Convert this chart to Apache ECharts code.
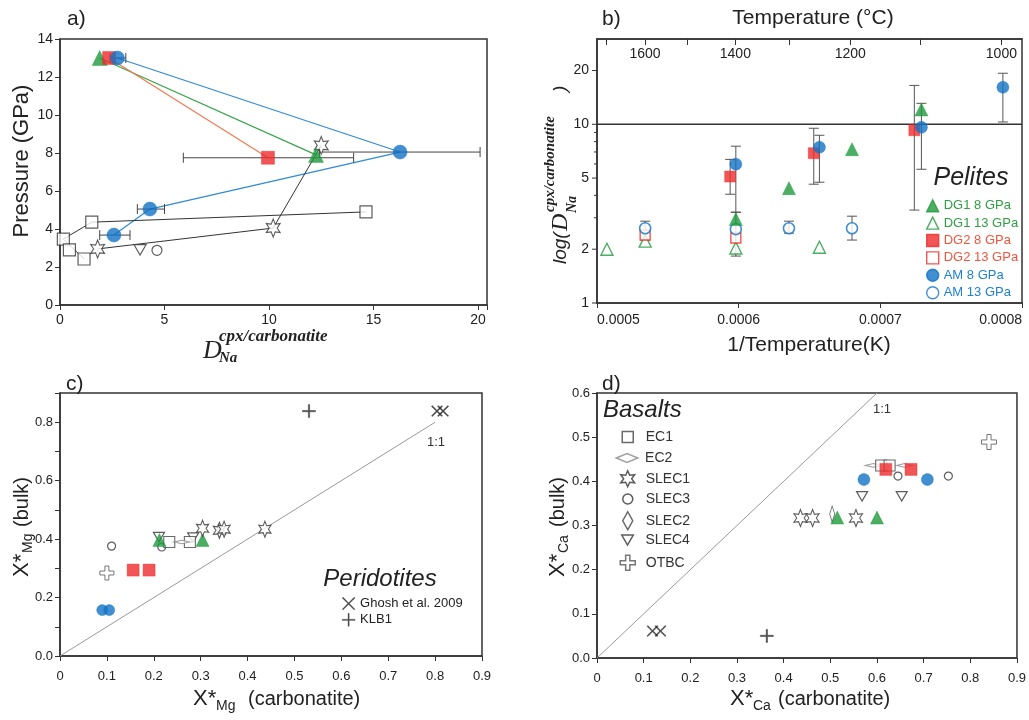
<!DOCTYPE html>
<html><head><meta charset="utf-8">
<script src="https://cdn.jsdelivr.net/npm/echarts@6/dist/echarts.min.js"></script>
<style>html,body{margin:0;padding:0;background:#fff}#c{width:1029px;height:720px}</style>
</head><body><div id="c"></div>
<script>
// ---------- Panel a: Pressure vs D_Na ----------
const aBlueLine = [[2.75,13],[16.27,8.05],[4.3,5.05],[2.58,3.68]];
const aGreenLine = [[1.9,13],[12.25,7.9]];
const aRedLine = [[2.35,13],[9.95,7.75]];
const aStarLine = [[12.5,8.4],[10.2,4.05],[1.8,2.95]];
const aSquareLine = [[14.64,4.9],[1.52,4.36],[0.16,3.47],[1.15,2.42]];
const aSquares = [[14.64,4.9],[1.52,4.36],[0.16,3.47],[0.45,2.9],[1.15,2.42]];
const aStars = [[12.5,8.4],[10.2,4.05],[1.8,2.95]];
const aGreen = [[1.9,13],[12.25,7.9]];
const aRed = [[2.35,13],[9.95,7.75]];
const aBlue = [[2.75,13],[16.27,8.05],[4.3,5.05],[2.58,3.68]];
const aDownTri = [[3.83,2.9]];
const aCircle = [[4.64,2.88]];
// [x, y, low, high]
const aErr = [[2.75,13,2.4,3.15],[9.95,7.75,5.9,14.05],[16.27,8.05,12.42,20.1],[4.3,5.05,3.7,5.0],[2.58,3.68,1.9,3.35]];

// ---------- Panel b: log D vs 1/T ----------
const bDG1_8 = [[0.000598,2.95],[0.0006355,4.39],[0.00068,7.25],[0.000729,12.1]];
const bDG1_13 = [[0.000507,2.0],[0.000534,2.22],[0.000598,2.03],[0.000657,2.05]];
const bDG2_8 = [[0.000594,5.1],[0.000653,6.89],[0.000724,9.26]];
const bDG2_13 = [[0.000534,2.4],[0.000598,2.31]];
const bAM_8 = [[0.000598,5.98],[0.000657,7.44],[0.000729,9.62],[0.0007865,16.1]];
const bAM_13 = [[0.000534,2.62],[0.000598,2.59],[0.0006355,2.62],[0.00068,2.62]];
// [x, low, high]
const bErr = [[0.000534,2.25,2.87],[0.000594,4.06,6.36],[0.000598,3.22,7.54],[0.000598,1.83,3.22],
  [0.0006355,2.46,2.87],[0.000653,4.62,9.5],[0.000657,4.74,8.68],[0.00068,2.25,3.06],
  [0.000724,3.31,16.5],[0.000729,5.6,13.1],[0.0007865,10.3,19.3]];
const bRefLine = [[0.0005,10],[0.0008,10]];
const bLogMajor = [1,2,5,10,20];
const bLogMinor = [3,4,6,7,8,9];
const bTopTicksC = [1700,1600,1500,1400,1300,1200,1100,1000];
const bTopLabelsC = [1600,1400,1200,1000];

// ---------- Panel c: X*Mg ----------
const cBlue = [[0.09,0.157],[0.105,0.157]];
const cOTBC = [[0.1,0.284]];
const cCircle = [[0.11,0.376],[0.217,0.373]];
const cRed = [[0.156,0.294],[0.19,0.294]];
const cGreen = [[0.212,0.397],[0.304,0.397]];
const cDownTri = [[0.211,0.407],[0.284,0.405]];
const cSquare = [[0.233,0.39],[0.277,0.39]];
const cWideDiamond = [[0.26,0.39]];
const cStar = [[0.304,0.437],[0.34,0.43],[0.35,0.434],[0.437,0.434]];
const cTallDiamond = [[0.34,0.43]];
const cGhosh = [[0.804,0.838],[0.817,0.838]];
const cKLB1 = [[0.531,0.838]];
const cOneToOne = [[0,0],[0.8,0.8]];

// ---------- Panel d: X*Ca ----------
const dGhosh = [[0.119,0.061],[0.136,0.061]];
const dKLB1 = [[0.364,0.05]];
const dStar = [[0.436,0.317],[0.462,0.317],[0.555,0.317]];
const dTallDiamond = [[0.504,0.326]];
const dGreen = [[0.515,0.318],[0.6,0.318]];
const dDownTri = [[0.568,0.366],[0.653,0.366]];
const dBlue = [[0.572,0.404],[0.708,0.404]];
const dCircle = [[0.645,0.412],[0.753,0.412]];
const dRed = [[0.619,0.427],[0.673,0.427]];
const dWideDiamond = [[0.592,0.436],[0.659,0.436]];
const dSquare = [[0.609,0.436],[0.627,0.436]];
const dOTBC = [[0.84,0.489]];
const dOneToOne = [[0,0],[0.6,0.6]];

// ---------- styles ----------
const FONT = '"Liberation Sans", Arial, sans-serif';
const SERIF = '"Liberation Serif", "DejaVu Serif", serif';
const GREEN = '#1f9a3c', RED = '#ee2a2a', BLUE = '#1273c6';
const GREEN_T = '#2ea043', RED_T = '#f2553a', BLUE_T = '#1f80d6';
const AX = '#333';
const STAR = 'path://M10 0L12.5 5.67L18.66 5L15 10L18.66 15L12.5 14.33L10 20L7.5 14.33L1.34 15L5 10L1.34 5L7.5 5.67Z';
const PLUS = 'path://M4.5 0H5.5V4.5H10V5.5H5.5V10H4.5V5.5H0V4.5H4.5Z';
const XMARK = 'path://M0 0.7L0.7 0L5 4.3L9.3 0L10 0.7L5.7 5L10 9.3L9.3 10L5 5.7L0.7 10L0 9.3L4.3 5Z';
const OCROSS = 'path://M3.6 0H6.4V3.6H10V6.4H6.4V10H3.6V6.4H0V3.6H3.6Z';
const WDIA = 'path://M0 5L12 0L24 5L12 10Z';
const TDIA = 'path://M5 0L10 9L5 18L0 9Z';
const DTRI = 'path://M0 0L12 0L6 10.4Z';

function filled(color){ return {color:color, borderColor:color, borderWidth:0.5}; }
function open(color, w){ return {color:'#fff', borderColor:color, borderWidth:w||1.3}; }

function sc(name, xi, data, symbol, size, style, extra){
  return Object.assign({type:'scatter', name:name, xAxisIndex:xi, yAxisIndex:xi, data:data,
    symbol:symbol, symbolSize:size, symbolKeepAspect:true, itemStyle:style, z:5, silent:true}, extra||{});
}
function ln(xi, data, color, w){
  return {type:'line', xAxisIndex:xi, yAxisIndex:xi, data:data, symbol:'none', silent:true,
    lineStyle:{color:color, width:w||1.2}, z:2};
}
function hErr(params, api){
  const y = api.value(1), p1 = api.coord([api.value(2), y]), p2 = api.coord([api.value(3), y]);
  const c = 5, st = {stroke:'#444', lineWidth:1};
  return {type:'group', children:[
    {type:'line', shape:{x1:p1[0],y1:p1[1],x2:p2[0],y2:p2[1]}, style:st},
    {type:'line', shape:{x1:p1[0],y1:p1[1]-c,x2:p1[0],y2:p1[1]+c}, style:st},
    {type:'line', shape:{x1:p2[0],y1:p2[1]-c,x2:p2[0],y2:p2[1]+c}, style:st}]};
}
function vErr(params, api){
  const x = api.value(0), p1 = api.coord([x, api.value(1)]), p2 = api.coord([x, api.value(2)]);
  const c = 5, st = {stroke:'#555', lineWidth:1};
  return {type:'group', children:[
    {type:'line', shape:{x1:p1[0],y1:p1[1],x2:p2[0],y2:p2[1]}, style:st},
    {type:'line', shape:{x1:p1[0]-c,y1:p1[1],x2:p1[0]+c,y2:p1[1]}, style:st},
    {type:'line', shape:{x1:p2[0]-c,y1:p2[1],x2:p2[0]+c,y2:p2[1]}, style:st}]};
}
const B_XMIN = 0.0005, B_XMAX = 0.0008;
function logTick(params, api){
  const v = api.value(1), major = api.value(2) === 1;
  const p = api.coord([B_XMIN, v]);
  const len = major ? 5 : 3;
  const ch = [{type:'line', shape:{x1:p[0]-len,y1:p[1],x2:p[0],y2:p[1]}, style:{stroke:AX, lineWidth:1}}];
  if (major) ch.push({type:'text', x:p[0]-8, y:p[1], style:{text:String(v), font:'14px '+FONT, fill:'#222', align:'right', verticalAlign:'middle'}});
  return {type:'group', children:ch};
}
const toInvK = c => 1/(c+273.15);

const baseAxis = (gi, o) => Object.assign({
  gridIndex:gi, type:'value', splitLine:{show:false},
  axisLine:{show:true, onZero:false, lineStyle:{color:AX, width:1.5}},
  axisTick:{show:true, length:5, lineStyle:{color:AX, width:1}},
  axisLabel:{color:'#222', fontFamily:FONT, fontSize:14}
}, o);

const series = [
  // panel a
  ln(0, aBlueLine, '#2f8ad8'), ln(0, aGreenLine, '#3aa64a'), ln(0, aRedLine, '#f4784f'),
  ln(0, aStarLine, '#333', 1), ln(0, aSquareLine, '#333', 1),
  {type:'custom', xAxisIndex:0, yAxisIndex:0, data:aErr, renderItem:hErr, encode:{x:[0,2,3], y:1}, z:3, silent:true},
  sc('a-sq', 0, aSquares, 'rect', 12, open('#333',1.2)),
  sc('a-star', 0, aStars, STAR, [16,18], open('#333',1.1)),
  sc('a-dt', 0, aDownTri, DTRI, 12, open('#333',1.2)),
  sc('a-ci', 0, aCircle, 'circle', 10, open('#333',1.2)),
  sc('a-g', 0, aGreen, 'triangle', 15, filled(GREEN)),
  sc('a-r', 0, aRed, 'rect', 13, filled(RED)),
  sc('a-b', 0, aBlue, 'circle', 14, filled(BLUE), {z:6}),
  // panel b
  {type:'line', xAxisIndex:1, yAxisIndex:1, data:bRefLine, symbol:'none', silent:true, lineStyle:{color:'#333', width:1.5}, z:2},
  {type:'custom', xAxisIndex:1, yAxisIndex:1, data:bErr, renderItem:vErr, encode:{x:0, y:[1,2]}, z:3, silent:true},
  {type:'custom', xAxisIndex:1, yAxisIndex:1, renderItem:logTick, encode:{x:0, y:1}, clip:false, silent:true, z:4,
    data: bLogMajor.map(v=>[B_XMIN, v, 1]).concat(bLogMinor.map(v=>[B_XMIN, v, 0]))},
  sc('DG1 13 GPa', 1, bDG1_13, 'triangle', 12, open(GREEN,1.4)),
  sc('DG2 13 GPa', 1, bDG2_13, 'rect', 10, open(RED,1.4)),
  sc('AM 13 GPa', 1, bAM_13, 'circle', 11, open(BLUE,1.6)),
  sc('DG1 8 GPa', 1, bDG1_8, 'triangle', 13, filled(GREEN)),
  sc('DG2 8 GPa', 1, bDG2_8, 'rect', 11, filled(RED)),
  sc('AM 8 GPa', 1, bAM_8, 'circle', 12, filled(BLUE)),
  // panel c
  ln(2, cOneToOne, '#999', 1),
  sc('c-blue', 2, cBlue, 'circle', 11, filled(BLUE)),
  sc('c-otbc', 2, cOTBC, OCROSS, 14, open('#555',1)),
  sc('c-ci', 2, cCircle, 'circle', 8, open('#333',1.2)),
  sc('c-red', 2, cRed, 'rect', 12, filled(RED)),
  sc('c-dt', 2, cDownTri, DTRI, 11, open('#333',1.2)),
  sc('c-sq', 2, cSquare, 'rect', 11, open('#444',1.1)),
  sc('c-wd', 2, cWideDiamond, WDIA, [16,8], open('#888',1.3)),
  sc('c-green', 2, cGreen, 'triangle', 13, filled(GREEN)),
  sc('c-td', 2, cTallDiamond, TDIA, [8,15], open('#444',1)),
  sc('c-star', 2, cStar, STAR, [14,16], open('#333',1.1)),
  sc('Ghosh et al. 2009', 2, cGhosh, XMARK, 11, filled('#222')),
  sc('KLB1', 2, cKLB1, PLUS, 13, filled('#222')),
  // panel d
  ln(3, dOneToOne, '#999', 1),
  sc('d-ghosh', 3, dGhosh, XMARK, 11, filled('#222')),
  sc('d-klb1', 3, dKLB1, PLUS, 13, filled('#222')),
  sc('SLEC2', 3, dTallDiamond, TDIA, [9,16], open('#444',1)),
  sc('SLEC1', 3, dStar, STAR, [15,17], open('#333',1.1)),
  sc('d-green', 3, dGreen, 'triangle', 13, filled(GREEN)),
  sc('SLEC4', 3, dDownTri, DTRI, 11, open('#333',1.2)),
  sc('d-blue', 3, dBlue, 'circle', 12, filled(BLUE)),
  sc('SLEC3', 3, dCircle, 'circle', 8, open('#333',1.2)),
  sc('EC2', 3, dWideDiamond, WDIA, [16,9], open('#888',1.3)),
  sc('EC1', 3, dSquare, 'rect', 11, open('#444',1.1)),
  sc('d-red', 3, dRed, 'rect', 12, filled(RED)),
  sc('OTBC', 3, dOTBC, OCROSS, 15, open('#555',1))
];

// legends: [name, icon width, icon height, row centre y]
const bLegendNames = [['DG1 8 GPa',GREEN_T],['DG1 13 GPa',GREEN_T],['DG2 8 GPa',RED_T],['DG2 13 GPa',RED_T],['AM 8 GPa',BLUE_T],['AM 13 GPa',BLUE_T]];
const dLegendItems = [['EC1',11,11,437],['EC2',23,9,458],['SLEC1',14,16,478],['SLEC3',10,10,499],['SLEC2',10,18,520],['SLEC4',12,10,540],['OTBC',15,15,562]];
const legends = [
  {left:926, top:199, padding:0, orient:'vertical', itemWidth:12, itemHeight:12, itemGap:4, selectedMode:false, symbolKeepAspect:true,
   textStyle:{fontSize:13, fontFamily:FONT}, itemStyle:{borderWidth:1.4},
   data: bLegendNames.map(([n,c])=>({name:n, textStyle:{color:c}}))},
  {left:342, top:597, padding:0, orient:'vertical', itemWidth:13, itemHeight:13, itemGap:3, selectedMode:false, symbolKeepAspect:true,
   textStyle:{fontSize:13, fontFamily:FONT, color:'#222'}, itemStyle:{borderWidth:0.2}, data:['Ghosh et al. 2009','KLB1']}
].concat(dLegendItems.map(([n,w,h,yc])=>({left:627-w/2, top:yc-Math.max(h,14)/2, padding:0, itemWidth:w, itemHeight:h,
   selectedMode:false, symbolKeepAspect:true,
   textStyle:{fontSize:14, fontFamily:FONT, color:'#333', padding:[0,0,0,(645-(627+w/2))-5]},
   itemStyle:{borderWidth:1.5}, data:[n]})));

// text helpers
function T(text, x, y, font, o){ o=o||{}; return {type:'text', x:x, y:y, z:100, silent:true,
  style:{text:text, font:font, fill:o.fill||'#222', align:o.align||'left', verticalAlign:o.va||'middle'}}; }
function G(x, y, children){ return {type:'group', x:x, y:y, rotation:Math.PI/2, children:children, silent:true}; }

const graphics = [
  T('a)', 67, 19, '21px '+FONT), T('b)', 602, 19, '21px '+FONT),
  T('c)', 66, 384, '21px '+FONT), T('d)', 602, 384, '21px '+FONT),
  T('Temperature (°C)', 813, 18, '21px '+FONT, {align:'center'}),
  T('1/Temperature(K)', 809, 345, '21px '+FONT, {align:'center'}),
  G(22, 161, [T('Pressure (GPa)', 0, 0, '22px '+FONT, {align:'center'})]),
  // D_Na^{cpx/carbonatite}
  T('D', 203, 351, 'italic 26px '+SERIF), T('cpx/carbonatite', 219, 337, 'italic bold 17px '+SERIF),
  T('Na', 219, 358, 'italic bold 15px '+SERIF),
  G(561, 264, [T('log(', 0, 0, 'italic 19px '+FONT), T('D', 33, 0, 'italic 24px '+SERIF),
     T('Na', 51, 11, 'italic bold 14px '+SERIF), T('cpx/carbonatite', 52, -11, 'italic bold 15px '+SERIF),
     T(')', 172, 0, 'italic 19px '+FONT)]),
  T('Pelites', 971, 178, 'italic 25px '+FONT, {align:'center'}),
  T('Peridotites', 380, 579, 'italic 24px '+FONT, {align:'center'}),
  T('Basalts', 603, 410, 'italic 24px '+FONT),
  T('1:1', 436, 442, '13px '+FONT, {fill:'#333', align:'center'}),
  T('1:1', 882, 409, '13px '+FONT, {fill:'#333', align:'center'}),
  // c titles
  T('X*', 193, 699, '22px '+FONT), T('Mg', 216, 706, '14px '+FONT), T('(carbonatite)', 248, 699, '20px '+FONT),
  G(22, 577, [T('X*', 0, 0, '22px '+FONT), T('Mg', 24, 6, '14px '+FONT), T('(bulk)', 50, 0, '20px '+FONT)]),
  // d titles
  T('X*', 730, 699, '22px '+FONT), T('Ca', 753, 706, '14px '+FONT), T('(carbonatite)', 778, 699, '20px '+FONT),
  G(558, 577, [T('X*', 0, 0, '22px '+FONT), T('Ca', 24, 6, '14px '+FONT), T('(bulk)', 50, 0, '20px '+FONT)])
];

const gridStyle = {show:true, borderColor:AX, borderWidth:1.5, containLabel:false};
const option = {
  animation:false,
  backgroundColor:'#fff',
  textStyle:{fontFamily:FONT},
  grid:[
    Object.assign({left:60, top:39, width:427, height:266}, gridStyle),
    Object.assign({left:597, top:39, width:425, height:264}, gridStyle),
    Object.assign({left:60, top:393, width:422, height:263}, gridStyle),
    Object.assign({left:597, top:393, width:424, height:265}, gridStyle)
  ],
  xAxis:[
    baseAxis(0, {min:0, max:20.43, interval:5, axisLabel:{color:'#222', fontFamily:FONT, fontSize:14, margin:8,
      formatter:v=> (Math.abs(v/5-Math.round(v/5))<1e-6 ? String(Math.round(v)) : '')}}),
    baseAxis(1, {min:B_XMIN, max:B_XMAX, interval:0.0001, axisLabel:{color:'#222', fontFamily:FONT, fontSize:14, margin:10,
      alignMinLabel:'left', alignMaxLabel:'right', formatter:v=>v.toFixed(4)}}),
    baseAxis(2, {min:0, max:0.9, interval:0.1, axisLabel:{color:'#222', fontFamily:FONT, fontSize:13, margin:14,
      formatter:v=> v===0 ? '0' : v.toFixed(1)}}),
    baseAxis(3, {min:0, max:0.9, interval:0.1, axisLabel:{color:'#222', fontFamily:FONT, fontSize:13, margin:14,
      formatter:v=> v===0 ? '0' : v.toFixed(1)}}),
    baseAxis(1, {position:'top', min:B_XMIN, max:B_XMAX,
      axisTick:{show:true, inside:true, length:6, lineStyle:{color:AX}, customValues:bTopTicksC.map(toInvK)},
      axisLabel:{show:true, inside:true, margin:8, color:'#222', fontFamily:FONT, fontSize:14,
        customValues:bTopLabelsC.map(toInvK), formatter:v=>String(Math.round((1/v-273.15)/100)*100)}})
  ],
  yAxis:[
    baseAxis(0, {min:0, max:14, interval:2, axisLabel:{color:'#222', fontFamily:FONT, fontSize:14, margin:7}}),
    baseAxis(1, {type:'log', logBase:10, min:1, max:30, axisLabel:{show:false}, axisTick:{show:false}}),
    baseAxis(2, {min:0, max:0.9, interval:0.1, axisLabel:{color:'#222', fontFamily:FONT, fontSize:13, margin:7,
      formatter:v=> (Math.round(v*10)%2===0 ? v.toFixed(1) : '')}}),
    baseAxis(3, {min:0, max:0.6, interval:0.1, axisLabel:{color:'#222', fontFamily:FONT, fontSize:13, margin:7,
      formatter:v=> v.toFixed(1)}})
  ],
  legend: legends,
  series: series,
  graphic: graphics
};
const chart = echarts.init(document.getElementById('c'), null, {renderer:'canvas'});
chart.setOption(option);
</script></body></html>
